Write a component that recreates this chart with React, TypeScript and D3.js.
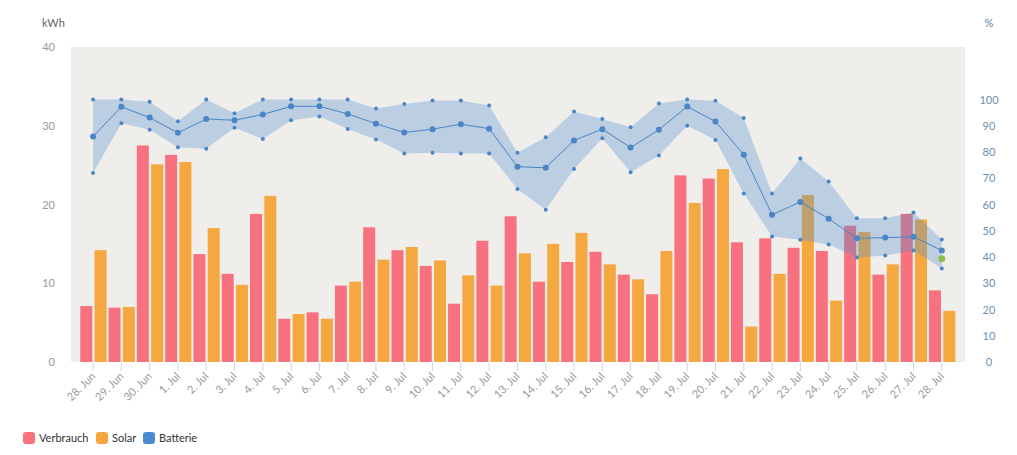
import React from "react";
import * as d3 from "d3";

const categories = [
  "28. Jun","29. Jun","30. Jun","1. Jul","2. Jul","3. Jul","4. Jul","5. Jul","6. Jul","7. Jul",
  "8. Jul","9. Jul","10. Jul","11. Jul","12. Jul","13. Jul","14. Jul","15. Jul","16. Jul","17. Jul",
  "18. Jul","19. Jul","20. Jul","21. Jul","22. Jul","23. Jul","24. Jul","25. Jul","26. Jul","27. Jul","28. Jul",
];
const verbrauch = [7.1,6.9,27.5,26.3,13.7,11.2,18.8,5.5,6.3,9.7,17.1,14.2,12.2,7.4,15.4,18.5,10.2,12.7,14.0,11.1,8.6,23.7,23.3,15.2,15.7,14.5,14.1,17.3,11.1,18.8,9.1];
const solar = [14.2,7.0,25.1,25.4,17.0,9.8,21.1,6.1,5.5,10.2,13.0,14.6,12.9,11.0,9.7,13.8,15.0,16.4,12.4,10.5,14.1,20.2,24.5,4.5,11.2,21.2,7.8,16.5,12.4,18.1,6.5];
const battMid = [85.9,97.2,93.1,87.3,92.6,92.1,94.3,97.4,97.4,94.5,90.8,87.4,88.7,90.6,88.9,74.4,74.0,84.4,88.7,81.7,88.5,97.3,91.6,79.0,56.1,61.0,54.6,47.1,47.4,47.7,42.5];
const battMax = [100,100,99.1,91.7,100,94.8,100,100,100,100,96.6,98.3,99.6,99.6,97.7,79.7,85.6,95.4,92.6,89.4,98.5,100,99.5,93.0,64.2,77.5,68.8,54.8,54.8,57.0,46.7];
const battMin = [72.0,91.0,88.5,81.8,81.2,89.2,85.0,92.1,93.5,88.8,84.8,79.4,79.7,79.4,79.4,65.9,58.0,73.5,85.2,72.3,78.7,90.0,84.6,64.2,47.8,46.6,44.8,39.8,40.6,42.5,35.6];
const currentValue = [{ index: 30, value: 39.3 }];
const leftTicks = [0, 10, 20, 30, 40];
const rightTicks = [0, 10, 20, 30, 40, 50, 60, 70, 80, 90, 100];
const legendItems = [
  { name: "Verbrauch", color: "#f7727e" },
  { name: "Solar", color: "#f5a83f" },
  { name: "Batterie", color: "#4a8ccf" },
];

const PL = 71, PR = 965, PT = 47, PB = 362;
const FONT = "Lato, 'Open Sans', sans-serif";

export default function App() {
  const x = d3.scaleLinear().domain([-0.78, 30.82]).range([PL, PR]);
  const yL = d3.scaleLinear().domain([0, 40]).range([PB, PT]);
  const yR = d3.scaleLinear().domain([0, 120]).range([PB, PT]);
  const idx = categories.map((_, i) => i);
  const area = d3.area<number>().x((i) => x(i)).y0((i) => yR(battMin[i])).y1((i) => yR(battMax[i]));
  const line = d3.line<number>().x((i) => x(i)).y((i) => yR(battMid[i]));
  const bw = 12;
  return (
    <svg width={1017} height={455} style={{ position: "absolute", left: 0, top: 0, fontFamily: FONT }}>
      <rect x={0} y={0} width={1017} height={455} fill="#fff" />
      <rect x={PL} y={PT} width={PR - PL} height={PB - PT} fill="#f0eeeb" />
      <text x={42} y={27} fontSize={11} fill="#666">kWh</text>
      <text x={989} y={27} fontSize={11} fill="#5a82ad" textAnchor="middle">%</text>
      {leftTicks.map((t) => (
        <text key={t} x={55} y={yL(t) + 4} fontSize={11} fill="#999" textAnchor="end">{t}</text>
      ))}
      {rightTicks.map((t) => (
        <text key={t} x={989} y={yR(t) + 4} fontSize={11} fill="#6b8fb3" textAnchor="middle">{t}</text>
      ))}
      {idx.map((i) => (
        <line key={i} x1={x(i)} x2={x(i)} y1={PB} y2={PB + 9} stroke="#ccd6eb" strokeWidth={1} />
      ))}
      {idx.map((i) => {
        const tx = x(i) + 3, ty = PB + 15;
        return (
          <text key={i} x={tx} y={ty} fontSize={11} fill="#999" textAnchor="end" transform={`rotate(-45, ${tx}, ${ty})`}>{categories[i]}</text>
        );
      })}
      {idx.map((i) => (
        <rect key={"v" + i} x={x(i) - 12.8} y={yL(verbrauch[i])} width={bw} height={PB - yL(verbrauch[i])} fill="#f7727e" />
      ))}
      {idx.map((i) => (
        <rect key={"s" + i} x={x(i) + 1.5} y={yL(solar[i])} width={bw} height={PB - yL(solar[i])} fill="#f5a83f" />
      ))}
      <path d={area(idx) || ""} fill="rgba(74,140,207,0.32)" />
      <path d={line(idx) || ""} fill="none" stroke="#4a86c5" strokeWidth={1} />
      {idx.map((i) => (
        <g key={"p" + i}>
          <circle cx={x(i)} cy={yR(battMax[i])} r={2} fill="#4a86c5" />
          <circle cx={x(i)} cy={yR(battMin[i])} r={2} fill="#4a86c5" />
          <circle cx={x(i)} cy={yR(battMid[i])} r={3} fill="#4a86c5" />
        </g>
      ))}
      {currentValue.map((c) => (
        <circle key={c.index} cx={x(c.index)} cy={yR(c.value)} r={3.5} fill="#8cc152" />
      ))}
      {legendItems.map((l, k) => {
        const offs = [23, 96, 143];
        return (
          <g key={l.name} transform={`translate(${offs[k]}, 432)`}>
            <rect x={0} y={0} width={12} height={12} rx={3} fill={l.color} />
            <text x={16} y={10} fontSize={11} fill="#333">{l.name}</text>
          </g>
        );
      })}
    </svg>
  );
}
